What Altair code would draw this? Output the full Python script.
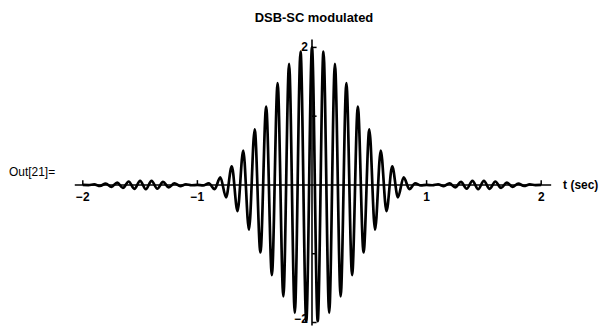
import altair as alt
import pandas as pd

# Extremum values of the DSB-SC signal (one per half carrier period)
left_peaks = [0.0, -0.002, 0.008, -0.014, 0.02, -0.028, 0.035, -0.043, 0.05, -0.056,
              0.06, -0.062, 0.06, -0.055, 0.045, -0.035, 0.025, -0.017, 0.01, -0.004,
              0.0, -0.006, 0.025, -0.06, 0.11, -0.18, 0.27, -0.38, 0.50, -0.65,
              0.81, -0.98, 1.14, -1.31, 1.48, -1.62, 1.76, -1.86, 1.94, -1.98]
center_peak = [2.0]
right_peaks = [-1.98, 1.94, -1.86, 1.76, -1.62, 1.48, -1.31, 1.14, -0.98, 0.81,
               -0.65, 0.50, -0.38, 0.27, -0.18, 0.11, -0.06, 0.025, -0.006, 0.0,
               -0.004, 0.01, -0.017, 0.025, -0.035, 0.045, -0.055, 0.06, -0.062, 0.06,
               -0.056, 0.05, -0.043, 0.035, -0.028, 0.02, -0.014, 0.008, -0.002, 0.0]
peak_values = left_peaks + center_peak + right_peaks
peak_times = [round(-2 + 0.05 * i, 2) for i in range(len(peak_values))]

x_ticks = [-2, -1, 1, 2]
x_tick_labels = ["\u22122", "\u22121", "1", "2"]
y_ticks = [-2, -1, 1, 2]

title_text = "DSB-SC modulated"
out_label = "Out[21]="
x_axis_label = "t (sec)"

x_dom = [-2.07, 2.087]
y_dom = [-2.043, 2.116]

xs = alt.Scale(domain=x_dom, nice=False, zero=False)
ys = alt.Scale(domain=y_dom, nice=False, zero=False)

sig = pd.DataFrame({"t": peak_times, "v": peak_values})

h_axis = alt.Chart(pd.DataFrame({"x": [x_dom[0]], "x2": [x_dom[1]], "y": [0]})).mark_rule(
    color="black", strokeWidth=1.6).encode(
    x=alt.X("x:Q", scale=xs, axis=None), x2="x2:Q", y=alt.Y("y:Q", scale=ys, axis=None))

v_axis = alt.Chart(pd.DataFrame({"x": [0], "y": [y_dom[0]], "y2": [y_dom[1]]})).mark_rule(
    color="black", strokeWidth=1.6).encode(
    x=alt.X("x:Q", scale=xs, axis=None), y=alt.Y("y:Q", scale=ys, axis=None), y2="y2:Q")

xt = alt.Chart(pd.DataFrame({"x": x_ticks, "y": [0] * 4, "y2": [0.07] * 4})).mark_rule(
    color="black", strokeWidth=1.5).encode(
    x=alt.X("x:Q", scale=xs, axis=None), y=alt.Y("y:Q", scale=ys, axis=None), y2="y2:Q")

yt = alt.Chart(pd.DataFrame({"x": [0] * 4, "x2": [0.04] * 4, "y": y_ticks})).mark_rule(
    color="black", strokeWidth=1.5).encode(
    x=alt.X("x:Q", scale=xs, axis=None), x2="x2:Q", y=alt.Y("y:Q", scale=ys, axis=None))

xl = alt.Chart(pd.DataFrame({"x": x_ticks, "y": [0] * 4, "lab": x_tick_labels})).mark_text(
    font="Liberation Sans", fontSize=12, fontWeight="bold", baseline="middle", align="center",
    dy=12, color="black").encode(
    x=alt.X("x:Q", scale=xs, axis=None), y=alt.Y("y:Q", scale=ys, axis=None), text="lab:N")

yl_top = alt.Chart(pd.DataFrame({"x": [0], "y": [2], "lab": ["2"]})).mark_text(
    font="Liberation Sans", fontSize=12, fontWeight="bold", baseline="middle", align="right",
    dx=-4, color="black").encode(
    x=alt.X("x:Q", scale=xs, axis=None), y=alt.Y("y:Q", scale=ys, axis=None), text="lab:N")

yl_bot = alt.Chart(pd.DataFrame({"x": [0], "y": [-2], "lab": ["\u22122"]})).mark_text(
    font="Liberation Sans", fontSize=12, fontWeight="bold", baseline="middle", align="right",
    dx=-4, dy=-4, color="black").encode(
    x=alt.X("x:Q", scale=xs, axis=None), y=alt.Y("y:Q", scale=ys, axis=None), text="lab:N")

line = alt.Chart(sig).mark_line(color="black", strokeWidth=2.7, interpolate="monotone").encode(
    x=alt.X("t:Q", scale=xs, axis=None), y=alt.Y("v:Q", scale=ys, axis=None))

title = alt.Chart(pd.DataFrame({"s": [title_text]})).mark_text(
    font="Liberation Sans", fontSize=13, fontWeight="bold", baseline="middle", align="center",
    color="black").encode(x=alt.value(240), y=alt.value(-21), text="s:N")

outl = alt.Chart(pd.DataFrame({"s": [out_label]})).mark_text(
    font="Liberation Sans", fontSize=12, baseline="middle", align="left",
    color="black").encode(x=alt.value(-66), y=alt.value(133), text="s:N")

xlab = alt.Chart(pd.DataFrame({"s": [x_axis_label]})).mark_text(
    font="Liberation Sans", fontSize=12, fontWeight="bold", baseline="middle", align="left",
    color="black").encode(x=alt.value(490), y=alt.value(146), text="s:N")

chart = alt.layer(h_axis, v_axis, xt, yt, line, xl, yl_top, yl_bot, title, outl, xlab).properties(
    width=478, height=287,
    padding={"left": 67, "top": 31, "right": 49, "bottom": 0},
    autosize=alt.AutoSizeParams(type="none"),
    background="white",
).configure_view(stroke=None)

chart.save("out.html", embed_options={"renderer": "svg", "actions": False})
